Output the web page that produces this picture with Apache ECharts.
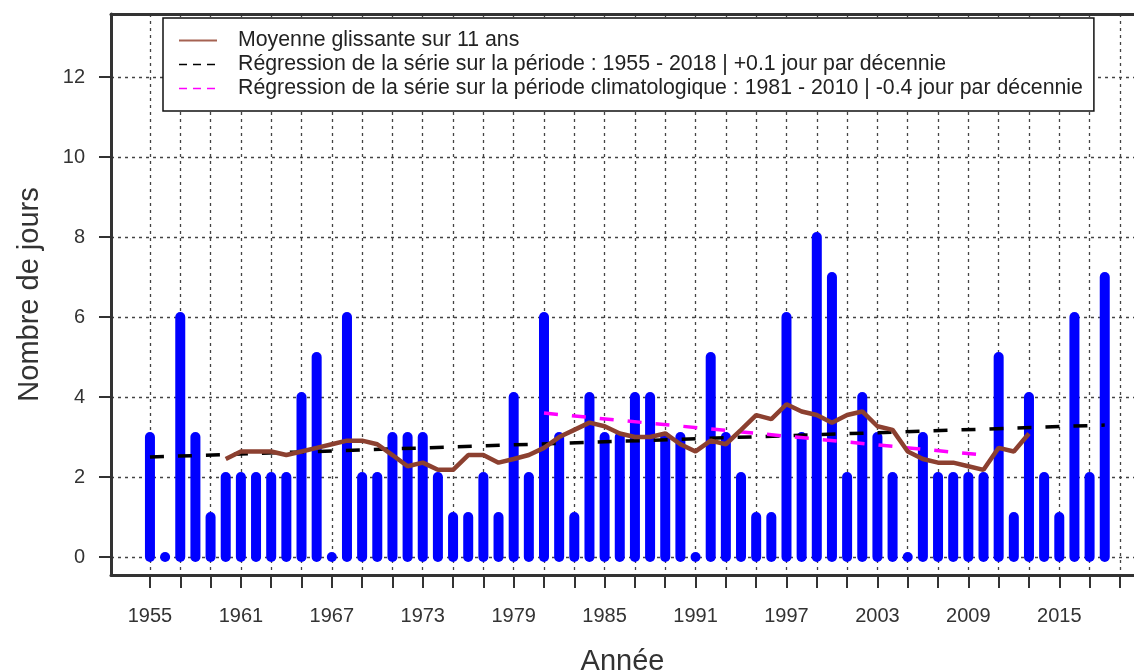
<!DOCTYPE html>
<html>
<head>
<meta charset="utf-8">
<title>Nombre de jours par année</title>
<style>
  html, body { margin: 0; padding: 0; background: #fff; }
  #chart { width: 1134px; height: 672px; }
</style>
</head>
<body>
<div id="chart"></div>
<script src="https://cdn.jsdelivr.net/npm/echarts@6/dist/echarts.min.js"></script>
<script>
// annual values, 1955 - 2018
var years = [1955, 1956, 1957, 1958, 1959, 1960, 1961, 1962, 1963, 1964,
  1965, 1966, 1967, 1968, 1969, 1970, 1971, 1972, 1973, 1974,
  1975, 1976, 1977, 1978, 1979, 1980, 1981, 1982, 1983, 1984,
  1985, 1986, 1987, 1988, 1989, 1990, 1991, 1992, 1993, 1994,
  1995, 1996, 1997, 1998, 1999, 2000, 2001, 2002, 2003, 2004,
  2005, 2006, 2007, 2008, 2009, 2010, 2011, 2012, 2013, 2014,
  2015, 2016, 2017, 2018];
var days = [3, 0, 6, 3, 1, 2, 2, 2, 2, 2,
  4, 5, 0, 6, 2, 2, 3, 3, 3, 2,
  1, 1, 2, 1, 4, 2, 6, 3, 1, 4,
  3, 3, 4, 4, 3, 3, 0, 5, 3, 2,
  1, 1, 6, 3, 8, 7, 2, 4, 3, 2,
  0, 3, 2, 2, 2, 2, 5, 1, 4, 2,
  1, 6, 2, 7];

// moyenne glissante 11 ans (1960 - 2013)
var mmYears = [1960, 1961, 1962, 1963, 1964, 1965, 1966, 1967, 1968, 1969,
  1970, 1971, 1972, 1973, 1974, 1975, 1976, 1977, 1978, 1979,
  1980, 1981, 1982, 1983, 1984, 1985, 1986, 1987, 1988, 1989,
  1990, 1991, 1992, 1993, 1994, 1995, 1996, 1997, 1998, 1999,
  2000, 2001, 2002, 2003, 2004, 2005, 2006, 2007, 2008, 2009,
  2010, 2011, 2012, 2013];
var mmValues = [2.45, 2.64, 2.64, 2.64, 2.55, 2.64, 2.73, 2.82, 2.91, 2.91,
  2.82, 2.55, 2.27, 2.36, 2.18, 2.18, 2.55, 2.55, 2.36, 2.45,
  2.55, 2.73, 3.00, 3.18, 3.36, 3.27, 3.09, 3.00, 3.00, 3.09,
  2.82, 2.64, 2.91, 2.82, 3.18, 3.55, 3.45, 3.82, 3.64, 3.55,
  3.36, 3.55, 3.64, 3.27, 3.18, 2.64, 2.45, 2.36, 2.36, 2.27,
  2.18, 2.73, 2.64, 3.09];

// droites de regression
var regYears = [1955, 2018];
var regValues = [2.5, 3.3];
var climYears = [1981, 2010];
var climValues = [3.6, 2.55];

// axes
var xTicks = [1955, 1957, 1959, 1961, 1963, 1965, 1967, 1969, 1971, 1973, 1975,
  1977, 1979, 1981, 1983, 1985, 1987, 1989, 1991, 1993, 1995, 1997, 1999,
  2001, 2003, 2005, 2007, 2009, 2011, 2013, 2015, 2017, 2019];
var xLabels = [1955, 1961, 1967, 1973, 1979, 1985, 1991, 1997, 2003, 2009, 2015];
var yTicks = [0, 2, 4, 6, 8, 10, 12];

var names = [
  'Moyenne glissante sur 11 ans',
  'Régression de la série sur la période : 1955 - 2018 | +0.1 jour par décennie',
  'Régression de la série sur la période climatologique : 1981 - 2010 | -0.4 jour par décennie'
];

function pairs(xs, ys) {
  var out = [];
  for (var i = 0; i < xs.length; i++) out.push([xs[i], ys[i]]);
  return out;
}

var myChart = echarts.init(document.getElementById('chart'), null, { renderer: 'canvas' });

var gridDash = { color: '#444', width: 1.3, type: [3, 4] };
var frame = { show: true, onZero: false, lineStyle: { color: '#333', width: 3 } };
var xMin = 1952.43, xMax = 2019.93;   // le cadre droit sort de l'image

var option = {
  animation: false,
  textStyle: { fontFamily: '"Liberation Sans", Arial, sans-serif' },
  grid: { left: 111, top: 14, bottom: 97, right: 0, outerBoundsMode: 'none', containLabel: false },
  legend: {
    data: [
      { name: names[0], lineStyle: { width: 2, color: '#a56252' } },
      { name: names[1], lineStyle: { width: 1.5, type: [8, 6] } },
      { name: names[2], lineStyle: { width: 1.5, type: [8, 6] } }
    ],
    itemStyle: { opacity: 0 },
    orient: 'vertical',
    left: 163, top: 18,
    itemWidth: 38, itemHeight: 14, itemGap: 3,
    padding: [12, 11, 12, 15],
    backgroundColor: '#fff',
    borderColor: '#111', borderWidth: 1.5,
    textStyle: { fontSize: 21.3, color: '#222', lineHeight: 21, padding: [0, 0, 0, 16] }
  },
  xAxis: [{
    type: 'value',
    min: xMin, max: xMax,
    name: 'Année', nameLocation: 'middle', nameGap: 72,
    nameTextStyle: { fontSize: 29, color: '#333' },
    axisLine: frame,
    axisTick: { show: true, length: 13, customValues: xTicks, lineStyle: { color: '#333', width: 2 } },
    axisLabel: {
      customValues: xLabels, fontSize: 20, color: '#333', margin: 31,
      formatter: function (v) { return String(v); }
    },
    splitLine: { show: true, lineStyle: gridDash }
  }, {
    type: 'value',
    position: 'top',
    min: xMin, max: xMax,
    axisLine: frame,
    axisTick: { show: false },
    axisLabel: { show: false },
    splitLine: { show: false }
  }],
  yAxis: {
    type: 'value',
    min: -0.45, max: 13.58,
    name: 'Nombre de jours', nameLocation: 'middle', nameGap: 67,
    nameTextStyle: { fontSize: 29, color: '#333' },
    axisLine: frame,
    axisTick: { show: true, length: 12, customValues: yTicks, lineStyle: { color: '#333', width: 2 } },
    axisLabel: { customValues: yTicks, fontSize: 20, color: '#333', margin: 26 },
    splitLine: { show: true, lineStyle: gridDash }
  },
  series: [
    {
      type: 'custom',
      data: pairs(years, days),
      z: 2,
      renderItem: function (params, api) {
        var base = api.coord([api.value(0), 0]);
        var top = api.coord([api.value(0), api.value(1)]);
        var w = 10;
        return {
          type: 'rect',
          shape: { x: base[0] - w / 2, y: top[1] - w / 2, width: w, height: base[1] - top[1] + w, r: w / 2 },
          style: { fill: '#0000ff' }
        };
      }
    },
    {
      name: names[1],
      type: 'line',
      data: pairs(regYears, regValues),
      symbol: 'none',
      z: 3,
      color: '#000',
      lineStyle: { color: '#000', width: 3.5, type: [14, 14] }
    },
    {
      name: names[2],
      type: 'line',
      data: pairs(climYears, climValues),
      symbol: 'none',
      z: 3,
      color: '#ff00ff',
      lineStyle: { color: '#ff00ff', width: 3.5, type: [14, 14] }
    },
    {
      name: names[0],
      type: 'line',
      data: pairs(mmYears, mmValues),
      symbol: 'none',
      z: 4,
      color: '#8c4030',
      lineStyle: { color: '#8c4030', width: 4.5 }
    }
  ]
};

myChart.setOption(option);
</script>
</body>
</html>
